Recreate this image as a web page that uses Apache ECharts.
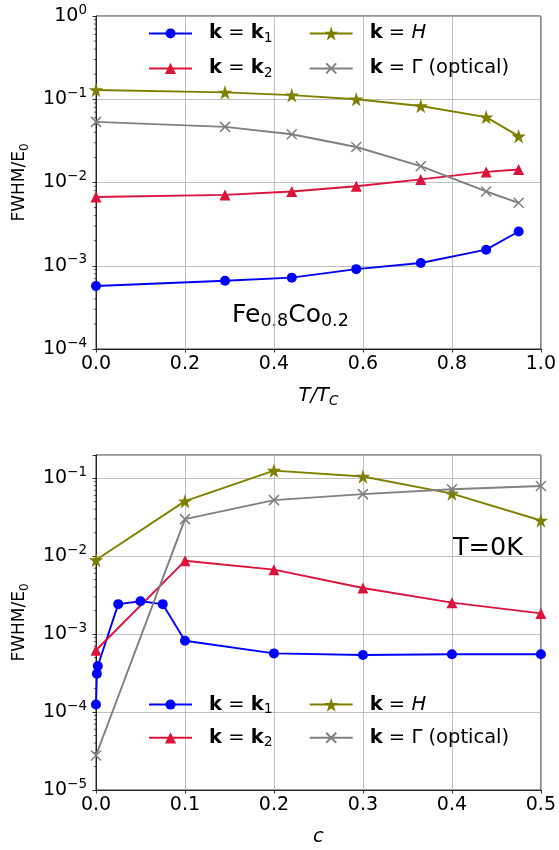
<!DOCTYPE html>
<html><head><meta charset="utf-8">
<script src="https://cdn.jsdelivr.net/npm/echarts@6/dist/echarts.min.js"></script>
<style>html,body{margin:0;padding:0;background:#fff}#c{width:559px;height:850px}</style>
</head><body><div id="c"></div>
<script>
// ---- data: top panel (x = T/Tc) ----
const topX  = [0, 0.29, 0.44, 0.585, 0.73, 0.877, 0.95];
const topK1 = [5.7e-4, 6.6e-4, 7.2e-4, 9.1e-4, 1.08e-3, 1.56e-3, 2.58e-3];
const topK2 = [6.7e-3, 7.1e-3, 7.8e-3, 9.0e-3, 1.09e-2, 1.34e-2, 1.43e-2];
const topH  = [0.129, 0.121, 0.112, 0.100, 0.083, 0.061, 0.036];
const topG  = [0.0535, 0.0466, 0.038, 0.0267, 0.0157, 0.0078, 0.0057];
// ---- data: bottom panel (x = c) ----
const botXk1 = [0, 0.001, 0.002, 0.025, 0.05, 0.075, 0.1, 0.2, 0.3, 0.4, 0.5];
const botK1  = [1.25e-4, 3.1e-4, 3.9e-4, 2.42e-3, 2.64e-3, 2.42e-3, 8.2e-4, 5.65e-4, 5.4e-4, 5.5e-4, 5.5e-4];
const botX   = [0, 0.1, 0.2, 0.3, 0.4, 0.5];
const botK2  = [6.2e-4, 8.7e-3, 6.7e-3, 3.9e-3, 2.53e-3, 1.84e-3];
const botH   = [8.9e-3, 0.0507, 0.125, 0.105, 0.0634, 0.0286];
const botG   = [2.77e-5, 0.0298, 0.0522, 0.0623, 0.0719, 0.0793];
// ---- axes ----
const topXRange = [0, 1], topXStep = 0.2, topYRange = [1e-4, 1];
const botXRange = [0, 0.5], botXStep = 0.1, botYRange = [1e-5, 0.198];

const FONT = 'DejaVu Sans';
const COLORS = {k1:'#0000ff', k2:'#dc143c', H:'#808000', G:'#808080'};
const LABELS = {
  k1: '{b|k} = {b|k}{sub|1}',
  k2: '{b|k} = {b|k}{sub|2}',
  H:  '{b|k} = {i|H}',
  G:  '{b|k} = Γ (optical)'
};
const LEG_RICH = {
  b: {fontFamily: FONT, fontWeight: 'bold', fontSize: 19.5, lineHeight: 24, color: '#000'},
  i: {fontFamily: FONT, fontStyle: 'italic', fontSize: 19.5, lineHeight: 24, color: '#000'},
  sub: {fontFamily: FONT, fontSize: 14, lineHeight: 16, verticalAlign: 'bottom', color: '#000'}
};

function starPath() {
  const pts = [];
  for (let i = 0; i < 10; i++) {
    const r = i % 2 === 0 ? 50 : 19.1;
    const a = -Math.PI / 2 + i * Math.PI / 5;
    pts.push((50 + r * Math.cos(a)).toFixed(2) + ',' + (50 + r * Math.sin(a)).toFixed(2));
  }
  return 'path://M' + pts.join('L') + 'Z';
}
const STAR = starPath();
const XMARK = 'path://M0,0L10,10M0,10L10,0';
const SYMB = {k1: ['circle', 10], k2: ['triangle', 11], H: [STAR, 14.5], G: [XMARK, 10]};
const LEG_H = {k1: 12.5, k2: 14, H: 18, G: 12.5};

function lineSeries(name, xs, ys, idx) {
  const s = {
    type: 'line', name, xAxisIndex: idx, yAxisIndex: idx,
    data: xs.map((x, i) => [x, ys[i]]),
    symbol: SYMB[name][0], symbolSize: SYMB[name][1], showSymbol: true,
    clip: false, silent: true, animation: false,
    lineStyle: {color: COLORS[name], width: 1.9},
    itemStyle: {color: COLORS[name], borderWidth: 0},
    emphasis: {disabled: true}
  };
  if (name === 'G') s.itemStyle = {color: 'rgba(0,0,0,0)', borderColor: COLORS.G, borderWidth: 1.5};
  return s;
}

function minorTickValues(range) {
  const out = [];
  const lo = Math.floor(Math.log10(range[0])), hi = Math.ceil(Math.log10(range[1]));
  for (let e = lo; e < hi; e++) for (let k = 2; k <= 9; k++) {
    const v = k * Math.pow(10, e);
    if (v > range[0] && v < range[1]) out.push(v);
  }
  return out;
}
function minorSeries(idx, xmin, yRange) {
  return {
    type: 'custom', xAxisIndex: idx, yAxisIndex: idx, silent: true, animation: false, clip: false,
    data: minorTickValues(yRange).map(v => [xmin, v]),
    renderItem: (params, api) => {
      const p = api.coord([api.value(0), api.value(1)]);
      return {type: 'line', shape: {x1: p[0] - 2.2, y1: p[1], x2: p[0], y2: p[1]},
        style: {stroke: '#000', lineWidth: 0.6}};
    }
  };
}

function logLabel(v) {
  const e = Math.log10(v), r = Math.round(e);
  if (Math.abs(e - r) > 1e-6) return '';
  return '{b|10}{s|' + (r < 0 ? '\u2212' + (-r) : r) + '}';
}

function xAxis(idx, range, step, name, gap) {
  return {
    type: 'value', gridIndex: idx, min: range[0], max: range[1], interval: step,
    name, nameLocation: 'middle', nameGap: gap,
    nameTextStyle: {fontFamily: FONT, fontSize: 19.5, color: '#000', lineHeight: 24, fontStyle: 'italic',
      rich: {i: {fontFamily: FONT, fontStyle: 'italic', fontSize: 19.5, lineHeight: 24},
             n: {fontFamily: FONT, fontSize: 19.5, lineHeight: 24},
             si: {fontFamily: FONT, fontStyle: 'italic', fontSize: 13.5, lineHeight: 16, verticalAlign: 'bottom'}}},
    axisLine: {show: true, onZero: false, lineStyle: {color: '#000', width: 0.8}},
    axisTick: {show: true, length: 3.5, lineStyle: {color: '#000', width: 0.8}},
    axisLabel: {color: '#000', fontFamily: FONT, fontSize: 19, margin: 6, formatter: v => v.toFixed(1)},
    splitLine: {show: true, lineStyle: {color: '#b0b0b0', width: 0.8}}
  };
}
function yAxis(idx, range) {
  return {
    type: 'log', logBase: 10, gridIndex: idx, min: range[0], max: range[1],
    name: 'FWHM/E{s|0}', nameLocation: 'middle', nameGap: 65, nameRotate: 90,
    nameTextStyle: {fontFamily: FONT, fontSize: 17, color: '#000', lineHeight: 22,
      rich: {s: {fontFamily: FONT, fontSize: 12, lineHeight: 14, verticalAlign: 'bottom'}}},
    axisLine: {show: true, lineStyle: {color: '#000', width: 0.8}},
    axisTick: {show: true, length: 3.5, lineStyle: {color: '#000', width: 0.8}},
    axisLabel: {color: '#000', fontFamily: FONT, margin: 9, formatter: logLabel,
      rich: {b: {fontFamily: FONT, fontSize: 19, lineHeight: 26, color: '#000'},
             s: {fontFamily: FONT, fontSize: 13.5, lineHeight: 16, verticalAlign: 'top', color: '#000'}}},
    splitLine: {show: true, lineStyle: {color: '#b0b0b0', width: 0.8}},
    minorTick: {show: false}
  };
}

// one legend component per entry; (left, rowCenterY)
function legend(name, left, centerY) {
  return {
    show: true, orient: 'vertical', left, top: centerY - 12, itemWidth: 43, itemHeight: LEG_H[name],
    padding: 0, selectedMode: false, data: [name], formatter: n => LABELS[n],
    textStyle: {color: '#000', fontFamily: FONT, fontSize: 19.5, lineHeight: 24, padding: [0, 0, 0, 12], rich: LEG_RICH}
  };
}
const COL1 = 148, COL2 = 308.7;
const TOP_ROWS = [33.4, 68.4], BOT_ROWS = [704.6, 737.8];

const chart = echarts.init(document.getElementById('c'), null, {renderer: 'canvas'});
chart.setOption({
  animation: false,
  backgroundColor: '#fff',
  grid: [
    {left: 96, top: 16, width: 446, height: 333, show: true, borderColor: '#000', borderWidth: 0.8, backgroundColor: 'transparent'},
    {left: 96, top: 455, width: 446, height: 338.5, show: true, borderColor: '#000', borderWidth: 0.8, backgroundColor: 'transparent'}
  ],
  xAxis: [
    xAxis(0, topXRange, topXStep, '{i|T}{n|/}{i|T}{si|C}', 35),
    xAxis(1, botXRange, botXStep, '{i|c}', 35)
  ],
  yAxis: [yAxis(0, topYRange), yAxis(1, botYRange)],
  legend: [
    legend('k1', COL1, TOP_ROWS[0]), legend('k2', COL1, TOP_ROWS[1]),
    legend('H', COL2, TOP_ROWS[0]), legend('G', COL2, TOP_ROWS[1]),
    legend('k1', COL1, BOT_ROWS[0]), legend('k2', COL1, BOT_ROWS[1]),
    legend('H', COL2, BOT_ROWS[0]), legend('G', COL2, BOT_ROWS[1])
  ],
  graphic: [
    {type: 'text', x: 232, y: 315.6, silent: true,
      style: {text: 'Fe{s|0.8}Co{s|0.2}', fontFamily: FONT, fontSize: 25, fill: '#000', verticalAlign: 'middle', lineHeight: 30,
        rich: {s: {fontFamily: FONT, fontSize: 17.5, lineHeight: 20, verticalAlign: 'bottom', fill: '#000'}}}},
    {type: 'text', x: 453, y: 548.6, silent: true,
      style: {text: 'T=0K', fontFamily: FONT, fontSize: 25.5, fill: '#000', verticalAlign: 'middle'}}
  ],
  series: [
    lineSeries('k1', topX, topK1, 0),
    lineSeries('k2', topX, topK2, 0),
    lineSeries('H', topX, topH, 0),
    lineSeries('G', topX, topG, 0),
    lineSeries('k1', botXk1, botK1, 1),
    lineSeries('k2', botX, botK2, 1),
    lineSeries('H', botX, botH, 1),
    lineSeries('G', botX, botG, 1),
    minorSeries(0, topXRange[0], topYRange),
    minorSeries(1, botXRange[0], botYRange)
  ]
});
</script></body></html>
